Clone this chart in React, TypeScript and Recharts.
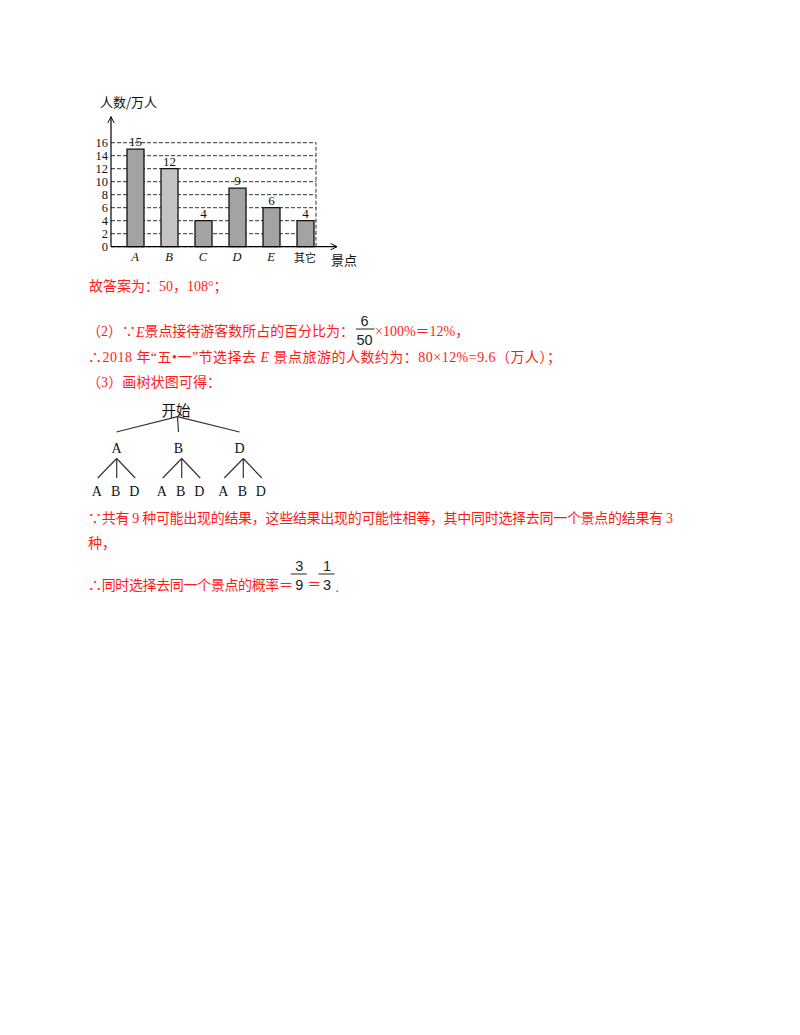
import { BarChart, Bar, XAxis, YAxis, CartesianGrid, LabelList, Cell, ReferenceLine } from "recharts";

// 景点 / 人数（万人）
const spots = ["A", "B", "C", "D", "E", "其它"];
const visitors = [15, 12, 4, 9, 6, 4];
const yTicks = [0, 2, 4, 6, 8, 10, 12, 14, 16];

// 树状图
const treeRoot = "开始";
const firstPick = ["A", "B", "D"];
const secondPick = ["A", "B", "D"];

const chartData = spots.map((name, i) => ({ name, value: visitors[i] }));
const lastSpot = spots[spots.length - 1];
const topTick = yTicks[yTicks.length - 1];

const SERIF = "'Liberation Serif', 'Noto Sans CJK SC', serif";
const SANS = "'Noto Sans CJK SC', 'Liberation Sans', sans-serif";
const RED = "#ff1a1a";

function XTick(props: any) {
  const { x, y, payload } = props;
  const latin = /^[A-Z]$/.test(payload.value);
  return (
    <text
      x={x}
      y={y + 10}
      textAnchor="middle"
      dominantBaseline="central"
      fontFamily={latin ? SERIF : SANS}
      fontStyle={latin ? "italic" : "normal"}
      fontSize={latin ? 12.5 : 11}
      fill="#111"
    >
      {payload.value}
    </text>
  );
}

function Frac({ x, y, num, den }: { x: number; y: number; num: string; den: string }) {
  return (
    <g fontFamily="'Liberation Sans', Arial, sans-serif" fontSize={14.5} fill="#222">
      <text x={x} y={y - 10.5} textAnchor="middle" dominantBaseline="central">{num}</text>
      <line x1={x - 6 - num.length * 2.5} x2={x + 5 + den.length * 2.5} y1={y - 2} y2={y - 2} stroke="#222" strokeWidth={1} />
      <text x={x} y={y + 8.5} textAnchor="middle" dominantBaseline="central">{den}</text>
    </g>
  );
}

function Tree() {
  const rootX = 177.5;
  const groupLabelX = [116.5, 178.5, 239.5];
  const groupJoinX = [116.7, 181.7, 243.3];
  const leafDx = [-19, 0, 18.5];
  return (
    <g stroke="#333" strokeWidth={1.2} fill="none">
      <text x={rootX - 1.5} y={409} textAnchor="middle" dominantBaseline="central" fontFamily={SANS} fontSize={14.5} fill="#111" stroke="none">
        {treeRoot}
      </text>
      {firstPick.map((p, i) => (
        <g key={p}>
          <line x1={rootX} y1={416.7} x2={groupLabelX[i]} y2={432} />
          <text x={groupLabelX[i]} y={448} textAnchor="middle" dominantBaseline="central" fontFamily={SERIF} fontSize={14} fill="#111" stroke="none">
            {p}
          </text>
          {secondPick.map((q, j) => (
            <g key={q}>
              <line x1={groupJoinX[i]} y1={458.5} x2={groupJoinX[i] + leafDx[j]} y2={478} />
              <text x={groupJoinX[i] + leafDx[j] - 1} y={491.7} textAnchor="middle" dominantBaseline="central" fontFamily={SERIF} fontSize={14} fill="#111" stroke="none">
                {q}
              </text>
            </g>
          ))}
        </g>
      ))}
    </g>
  );
}

export default function App() {
  return (
    <div style={{ position: "absolute", left: 0, top: 0, width: 800, height: 1035, overflow: "hidden", background: "#fff" }}>
      <svg width={0} height={0} style={{ position: "absolute" }}>
        <defs>
          <marker id="axisArrow" viewBox="0 0 10 10" refX={9} refY={5} markerWidth={8} markerHeight={8} markerUnits="userSpaceOnUse" orient="auto-start-reverse">
            <path d="M1,1 L9,5 L1,9" fill="none" stroke="#000" strokeWidth={1.2} />
          </marker>
        </defs>
      </svg>

      <div style={{ position: "absolute", left: 0, top: 0 }}>
        <BarChart
          width={400}
          height={280}
          data={chartData}
          margin={{ top: 116.7, right: 63, bottom: 3.3, left: 81 }}
          barSize={17}
        >
          <CartesianGrid x={111} width={205} vertical={false} syncWithTicks stroke="#333" strokeDasharray="4 2" />
          <XAxis
            dataKey="name"
            height={30}
            padding={{ left: 7, right: 15 }}
            interval={0}
            tickLine={false}
            tickSize={0}
            tickMargin={0}
            tick={<XTick />}
            axisLine={{ stroke: "#000", strokeWidth: 1.2, markerEnd: "url(#axisArrow)" }}
            label={{
              content: ({ viewBox }: any) => (
                <text x={viewBox.x + viewBox.width + 7} y={viewBox.y + 12.5} textAnchor="middle" dominantBaseline="central" fontFamily={SANS} fontSize={13} fill="#111">
                  景点
                </text>
              ),
            }}
          />
          <YAxis
            width={30}
            domain={[0, 20]}
            ticks={yTicks}
            interval={0}
            tickLine={false}
            tickSize={0}
            tickMargin={3}
            tick={{ fontFamily: SERIF, fontSize: 12.5, fill: "#111" }}
            axisLine={{ stroke: "#000", strokeWidth: 1.2, markerStart: "url(#axisArrow)" }}
            label={{
              content: ({ viewBox }: any) => (
                <text x={viewBox.x + viewBox.width + 17.5} y={viewBox.y - 15} textAnchor="middle" dominantBaseline="central" fontFamily={SANS} fontSize={13} fill="#111">
                  人数/万人
                </text>
              ),
            }}
          />
          <ReferenceLine
            segment={[{ x: lastSpot, y: 0 }, { x: lastSpot, y: topTick }]}
            shape={(p: any) => (
              <line x1={p.x1 + 11} y1={p.y1} x2={p.x2 + 11} y2={p.y2} stroke="#333" strokeDasharray="4 2" strokeWidth={1} />
            )}
          />
          <Bar dataKey="value" stroke="#111" strokeWidth={1.3} isAnimationActive={false}>
            {chartData.map((d) => (
              <Cell key={d.name} fill={d.name === "B" ? "#c3c3c3" : "#a3a3a3"} />
            ))}
            <LabelList dataKey="value" position="top" offset={3} fontFamily={SERIF} fontSize={13} fill="#111" />
          </Bar>
        </BarChart>
      </div>

      <svg width={800} height={1035} style={{ position: "absolute", left: 0, top: 0 }}>
        <g fontFamily={SERIF} fontSize={14} fill={RED} dominantBaseline="central">
          <text x={89} y={286}>故答案为：50，108°；</text>

          <text x={87} y={331.7} textLength={267} lengthAdjust="spacing">
            （2）∵<tspan fontStyle="italic">E</tspan>景点接待游客数所占的百分比为：
          </text>
          <text x={375} y={331.7}>×100%＝12%，</text>

          <text x={88} y={357.3} textLength={473} lengthAdjust="spacing">
            ∴2018 年“五•一”节选择去 <tspan fontStyle="italic">E</tspan> 景点旅游的人数约为：80×12%=9.6（万人）；
          </text>

          <text x={87} y={382.7} textLength={134} lengthAdjust="spacing">（3）画树状图可得：</text>

          <text x={88} y={518.3} textLength={585} lengthAdjust="spacing">
            ∵共有 9 种可能出现的结果，这些结果出现的可能性相等，其中同时选择去同一个景点的结果有 3
          </text>
          <text x={88} y={543.3}>种，</text>

          <text x={88} y={585} textLength={205} lengthAdjust="spacing">∴同时选择去同一个景点的概率＝</text>
          <text x={314.3} y={584} textAnchor="middle">＝</text>
          <text x={335.5} y={587}>.</text>
        </g>

        <Frac x={364.5} y={331} num="6" den="50" />
        <Frac x={299.3} y={576} num="3" den="9" />
        <Frac x={327} y={576} num="1" den="3" />

        <Tree />
      </svg>
    </div>
  );
}
